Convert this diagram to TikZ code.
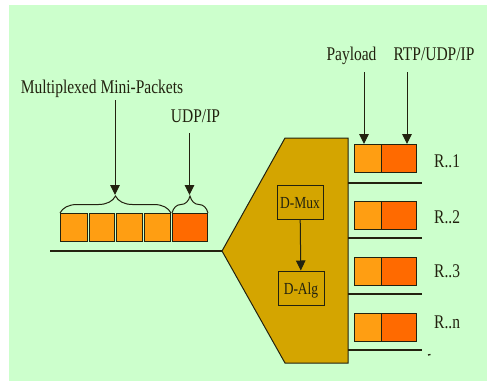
\documentclass[tikz,border=0pt]{standalone}
\usepackage{graphicx}
\usepackage{fontspec}
\setmainfont{Liberation Serif}
\usetikzlibrary{arrows.meta,decorations.pathreplacing}
\definecolor{bggreen}{HTML}{CCFFCC}
\definecolor{lightor}{HTML}{FF9E12}
\definecolor{darkor}{HTML}{FF6A00}
\definecolor{gold}{HTML}{D4A500}
\definecolor{ink}{HTML}{22220F}
% tall, narrow lettering
\newcommand{\tallt}[1]{\scalebox{1}[1.25]{#1}}
\tikzset{
  pkt/.style={draw=ink, line width=1pt, minimum height=28pt, inner sep=0pt, anchor=north west},
  lbl/.style={font=\fontsize{15.5}{17}\selectfont, text=ink, inner sep=0pt, anchor=base},
  blk/.style={draw=ink, line width=1pt, fill=gold, inner sep=0pt},
  blktxt/.style={font=\fontsize{13.5}{15}\selectfont, text=ink, inner sep=0pt, anchor=base},
  arr/.style={draw=ink, line width=1pt, -{Triangle[length=10pt,width=9.5pt]}},
  wire/.style={draw=ink, line width=1.1pt},
  brc/.style={draw=ink, line width=1pt, decorate, decoration={brace, amplitude=17pt}}
}
\begin{document}
\begin{tikzpicture}[x=1pt,y=-1pt]
\useasboundingbox (0,0) rectangle (487,381);
\fill[bggreen] (9,5) rectangle (487,381);

% incoming multiplexed packet
\node[pkt, fill=lightor, minimum width=27pt] (m1) at (60,213) {};
\node[pkt, fill=lightor, minimum width=25pt] (m2) at (89,213) {};
\node[pkt, fill=lightor, minimum width=26pt] (m3) at (116,213) {};
\node[pkt, fill=lightor, minimum width=26pt] (m4) at (144,213) {};
\node[pkt, fill=darkor, minimum width=35pt] (hdr) at (172,213) {};

\draw[brc] (m1.north west) -- (m4.north east);
\draw[brc] (hdr.north west) -- (hdr.north east);
\coordinate (tip1) at (115,195);
\coordinate (tip2) at (189.5,195);

\node[lbl] (mmp) at (102,93) {\tallt{Multiplexed Mini-Packets}};
\node[lbl] (udp) at (195.5,122) {\tallt{UDP/IP}};
\coordinate (s1) at (115,100);
\coordinate (s2) at (189.5,133);
\draw[arr] (s1) -- (tip1);
\draw[arr] (s2) -- (tip2);

% demultiplexer body
\coordinate (ptip) at (222,251);
\draw[blk] (ptip) -- (285,138) -- (348,138) -- (348,363) -- (285,363) -- cycle;
\node[blk, minimum width=46pt, minimum height=34pt] (dmux) at (300,202) {};
\node[blk, minimum width=46pt, minimum height=34pt] (dalg) at (301,288) {};
\node[blktxt] (dmuxt) at (300,208) {\tallt{D-Mux}};
\node[blktxt] (dalgt) at (301,294) {\tallt{D-Alg}};
\draw[arr] (dmux) -- (dalg);

\coordinate (lin) at (50,251);
\draw[wire] (lin) -- (ptip);

% outgoing streams
\foreach \i/\y/\r/\ly/\ey in {1/144/R..1/167/{183}, 2/201/R..2/223/{238}, 3/257/R..3/277/{294}, 4/313/R..n/328/{350}} {
  \node[pkt, fill=lightor, minimum width=27pt] (pl\i) at (354,\y) {};
  \node[pkt, fill=darkor, minimum width=35pt] (rh\i) at (381,\y) {};
  \node[lbl, anchor=base west] (rl\i) at (434,\ly) {\tallt{\r}};
  \coordinate (oa\i) at (348,\ey);
  \coordinate (ob\i) at (422,\ey);
  \draw[wire] (oa\i) -- (ob\i);
}
\coordinate (dot) at (428,355);
\draw[wire, line width=1.3pt] (dot) -- ++(2.5,-0.5);

\node[lbl] (pay) at (351.5,60) {\tallt{Payload}};
\node[lbl] (rtp) at (434,60) {\tallt{RTP/UDP/IP}};
\coordinate (s3) at (364,72);
\coordinate (s4) at (407,72);
\draw[arr] (s3) -- (pl1.north -| s3);
\draw[arr] (s4) -- (rh1.north -| s4);
\end{tikzpicture}
\end{document}
